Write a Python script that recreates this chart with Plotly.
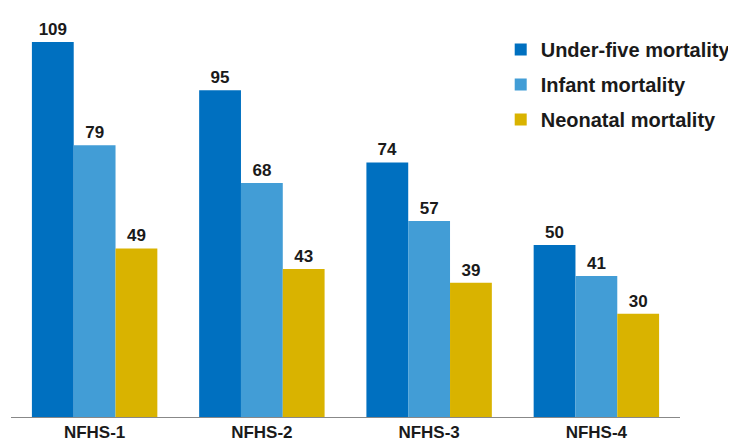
import plotly.graph_objects as go

rounds = ["NFHS-1", "NFHS-2", "NFHS-3", "NFHS-4"]
under_five = [109, 95, 74, 50]
infant = [79, 68, 57, 41]
neonatal = [49, 43, 39, 30]

series = [
    ("Under-five mortality", under_five, "#0070C0"),
    ("Infant mortality", infant, "#429DD6"),
    ("Neonatal mortality", neonatal, "#D9B300"),
]

FONT = "Liberation Sans, Arial, sans-serif"

fig = go.Figure()
for i, (name, vals, color) in enumerate(series):
    fig.add_trace(
        go.Bar(
            x=rounds,
            y=vals,
            name=name,
            marker_color=color,
            marker_line_width=0,
            text=vals,
            textposition="outside",
            textfont=dict(family=FONT, size=17, color="#1a1a1a", weight="bold"),
            cliponaxis=False,
            legendgroup=f"g{i}",
        )
    )

# the page puts the figure 8px in from the top-left corner, so margins allow for that
fig.update_layout(
    width=736,
    height=445,
    margin=dict(l=3, r=64, t=2, b=36, autoexpand=False),
    paper_bgcolor="white",
    plot_bgcolor="white",
    barmode="group",
    bargap=0.25,
    bargroupgap=0,
    font=dict(family=FONT, color="#1a1a1a"),
    legend=dict(
        x=0.732,
        y=0.951,
        xanchor="left",
        yanchor="top",
        font=dict(family=FONT, size=20, weight="bold"),
        traceorder="grouped",
        tracegroupgap=6,
        itemwidth=30,
        bgcolor="rgba(0,0,0,0)",
    ),
    xaxis=dict(
        showline=True,
        linecolor="#888888",
        linewidth=1,
        tickfont=dict(family=FONT, size=17, weight="bold"),
        ticks="",
        showgrid=False,
    ),
    yaxis=dict(
        range=[0, 118.3],
        visible=False,
        showgrid=False,
    ),
)

fig.write_html("out.html")
